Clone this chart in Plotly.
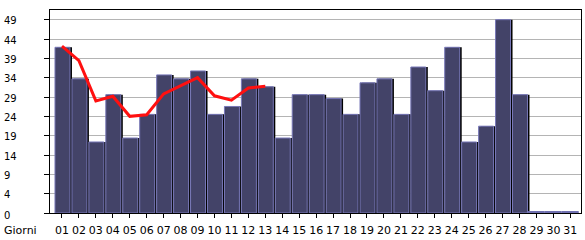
import plotly.graph_objects as go

days = [f"{i:02d}" for i in range(1, 32)]
visits = [42, 34, 18, 30, 19, 25, 35, 34, 36, 25, 27, 34, 32, 19, 30, 30, 29, 25, 33, 34,
          25, 37, 31, 42, 18, 22, 49, 30, 0, 0, 0]
trend_days = days[:13]
trend = [42.3, 38.6, 28.4, 29.6, 24.5, 24.9, 30.2, 32.3, 34.3, 29.7, 28.6, 31.7, 32.1]
ymax = 49
ytick_vals = [ymax * k / 10 for k in range(11)]
ytick_text = [str(int(v)) for v in ytick_vals]

W, H = 585, 240
L, R, T, B = 50, 3, 10, 20
pw = W - L - R
ph = H - T - B
px_per_cat = 16.97
bw = 15 / px_per_cat
off = -7 / px_per_cat
sh = 2 / px_per_cat

FONT = "DejaVu Sans"
FS = 10
fig = go.Figure()
fig.add_trace(go.Bar(x=days, y=visits, width=bw, offset=off + sh,
                     marker=dict(color="#000000", line=dict(width=0)), hoverinfo="skip"))
fig.add_trace(go.Bar(x=days, y=visits, width=bw, offset=off,
                     marker=dict(color="#434368", line=dict(color="#7878b8", width=1))))
zero_days = [d for d, v in zip(days, visits) if v == 0]
fig.add_trace(go.Scatter(x=zero_days, y=[0.25] * len(zero_days), mode="markers",
                         cliponaxis=False,
                         marker=dict(symbol="line-ew", size=12,
                                     line=dict(color="#7070b0", width=2)),
                         hoverinfo="skip"))
fig.add_trace(go.Scatter(x=trend_days, y=trend, mode="lines",
                         line=dict(color="#ff1010", width=3)))

for v, t in zip(ytick_vals, ytick_text):
    fig.add_annotation(x=-48 / pw, xref="paper", y=v, yref="y", text=t,
                       showarrow=False, xanchor="left", yanchor="middle",
                       yshift=-1 if v > 0 else -2,
                       font=dict(family=FONT, size=FS, color="black"))
fig.add_annotation(x=-48 / pw, xref="paper", y=-18 / ph, yref="paper",
                   text="Giorni", showarrow=False, xanchor="left", yanchor="middle",
                   font=dict(family=FONT, size=FS + 1, color="black"))

fig.update_layout(
    width=W, height=H, margin=dict(l=L, r=R, t=T, b=B),
    paper_bgcolor="white", plot_bgcolor="white",
    barmode="overlay", showlegend=False,
    font=dict(family=FONT, size=FS, color="black"),
)
fig.update_xaxes(type="category", range=[-0.707, 30.63], showline=True, linecolor="black",
                 linewidth=1, mirror=True, ticks="outside", ticklen=4, tickcolor="black",
                 ticklabelstandoff=3,
                 showgrid=False, tickfont=dict(family=FONT, size=FS + 1), fixedrange=True)
fig.update_yaxes(range=[0, ymax * 210 / 200], tickvals=ytick_vals, ticktext=[""] * 11,
                 showline=True, linecolor="black", linewidth=1, mirror=True,
                 ticks="outside", ticklen=5, tickcolor="black",
                 showgrid=True, gridcolor="#b4b4b4", gridwidth=1, zeroline=False,
                 fixedrange=True)

fig.write_html("out.html")
